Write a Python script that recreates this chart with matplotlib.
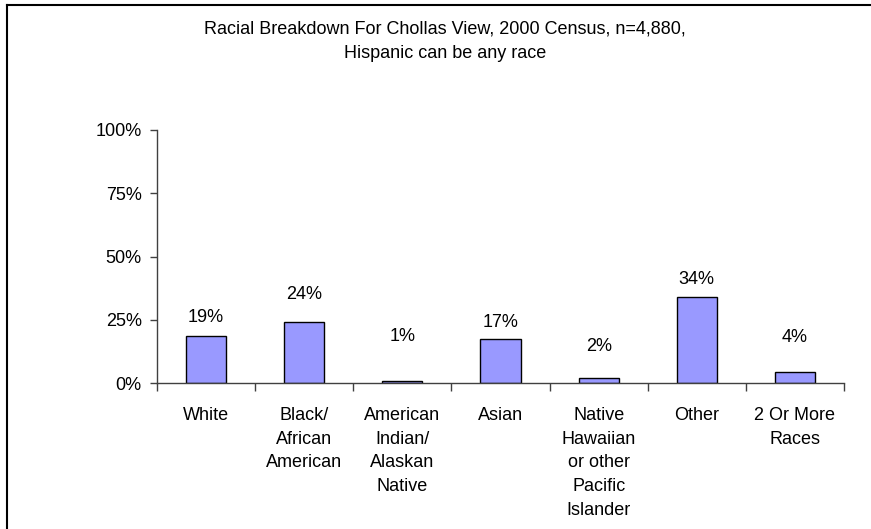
import numpy as np
from matplotlib import pyplot as plt
from matplotlib.lines import Line2D
from matplotlib.ticker import FixedLocator, PercentFormatter


categories = ["White", "Black/\nAfrican\nAmerican", "American\nIndian/\nAlaskan\nNative",
              "Asian", "Native\nHawaiian\nor other\nPacific\nIslander", "Other",
              "2 Or More\nRaces"]
shares = [0.186, 0.242, 0.006, 0.173, 0.018, 0.339, 0.045]
share_labels = ["19%", "24%", "1%", "17%", "2%", "34%", "4%"]
y_ticks = [0, 0.25, 0.5, 0.75, 1.0]

# where Excel dropped the value labels (data units)
label_y = [0.257, 0.348, 0.182, 0.238, 0.143, 0.41, 0.18]

plt.rcParams['font.family'] = ['Liberation Sans', 'DejaVu Sans']
fs = 13

fig = plt.figure(figsize=(8.71, 5.29), dpi=100)
ax = fig.add_axes([157 / 871, 1 - 383 / 529, (844 - 157) / 871, (383 - 130) / 529])

x = np.arange(len(categories)) + 0.5
ax.bar(x, shares, width=0.41, color='#9999FF', edgecolor='black', linewidth=1.0)

for xi, ly, txt in zip(x, label_y, share_labels):
    ax.text(xi, ly, txt, ha='center', va='center', fontsize=fs)

ax.set_xlim(0, len(categories))
ax.set_ylim(0, 1.0)
ax.set_yticks(y_ticks)
ax.yaxis.set_major_formatter(PercentFormatter(1.0, decimals=0))

# ticks at category boundaries, labels at centres
ax.xaxis.set_major_locator(FixedLocator(np.arange(len(categories) + 1)))
ax.set_xticklabels([])
ax.set_xticks(x, minor=True)
ax.set_xticklabels(categories, minor=True, fontsize=fs, linespacing=1.53, va='top')
ax.tick_params(axis='x', which='minor', length=0, pad=17)
ax.tick_params(axis='x', which='major', length=6, width=1, color='#404040')
ax.tick_params(axis='y', length=5, width=1, color='#404040', labelsize=fs, pad=6)

for s in ['top', 'right']:
    ax.spines[s].set_visible(False)
for s in ['left', 'bottom']:
    ax.spines[s].set_color('#404040')
    ax.spines[s].set_linewidth(1.0)

fig.text(445 / 871, 1 - 29 / 529, "Racial Breakdown For Chollas View, 2000 Census, n=4,880,",
         ha='center', va='center', fontsize=fs)
fig.text(445 / 871, 1 - 53 / 529, "Hispanic can be any race",
         ha='center', va='center', fontsize=fs)

# chart-area frame (top and left edges show)
fig.add_artist(Line2D([7 / 871, 7 / 871], [0, 1 - 5 / 529], color='black', lw=1.5))
fig.add_artist(Line2D([7 / 871, 1], [1 - 5 / 529, 1 - 5 / 529], color='black', lw=1.5))

fig.savefig("out.png", dpi=100)
